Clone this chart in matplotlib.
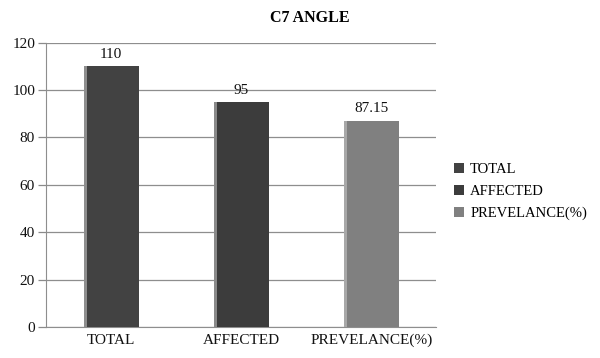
import numpy as np
import matplotlib
matplotlib.use("Agg")
from matplotlib import pyplot as plt
from matplotlib.patches import Patch

# C7 angle counts
categories = ["TOTAL", "AFFECTED", "PREVELANCE(%)"]
values = [110, 95, 87.15]
value_labels = ["110", "95", "87.15"]
bar_colors = ["#424242", "#3c3c3c", "#808080"]
edge_colors = ["#8e8e8e", "#8a8a8a", "#a8a8a8"]
yticks = [0, 20, 40, 60, 80, 100, 120]

plt.rcParams['font.family'] = ['Liberation Serif', 'DejaVu Serif']

fig = plt.figure(figsize=(6, 3.58), dpi=100)
ax = fig.add_axes([0.077, 0.0866, 0.65, 0.794])

x = np.arange(len(categories))
w = 0.42
ax.bar(x, values, width=w, color=bar_colors, zorder=3)
# thin lighter strip on the left side of each bar
ax.bar(x - w / 2, values, width=0.025, align='edge', color=edge_colors, zorder=4)

for xi, v, lab in zip(x, values, value_labels):
    ax.text(xi, v + 2.3, lab, ha='center', va='bottom', fontsize=11, color='#111111')

ax.set_xlim(-0.5, len(categories) - 0.5)
ax.set_ylim(0, 120)
ax.set_yticks(yticks)
ax.set_xticks(x)
ax.set_xticklabels(categories)
ax.tick_params(axis='both', labelsize=11, colors='#111111')
ax.tick_params(axis='y', length=6, width=0.9, color='#8a8a8a', pad=2)
ax.tick_params(axis='x', length=0, pad=5)
ax.yaxis.grid(True, color='#8e8e8e', linewidth=0.9, zorder=0)
ax.set_axisbelow(True)
for side in ['top', 'right']:
    ax.spines[side].set_visible(False)
ax.spines['left'].set_color('#8e8e8e')
ax.spines['bottom'].set_color('#8e8e8e')

fig.text(0.517, 0.95, "C7 ANGLE", ha='center', va='center', fontsize=11.5, fontweight='bold')

handles = [Patch(facecolor=c, edgecolor='none') for c in bar_colors]
fig.legend(handles, categories, loc='center left', bbox_to_anchor=(0.735, 0.465),
           frameon=False, fontsize=10.5, handlelength=0.7, handleheight=0.7,
           handletextpad=0.4, labelspacing=0.6)

fig.savefig("out.png", dpi=100)
